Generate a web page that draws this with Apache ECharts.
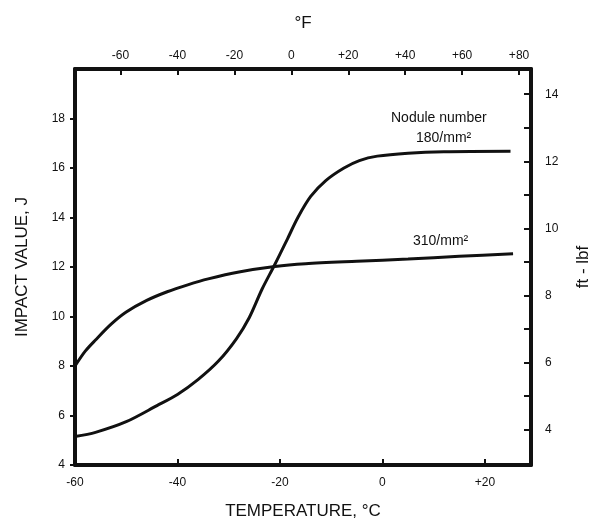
<!DOCTYPE html>
<html>
<head>
<meta charset="utf-8">
<script src="https://cdn.jsdelivr.net/npm/echarts@6/dist/echarts.min.js"></script>
<style>
  html, body { margin: 0; padding: 0; background: #fff; }
  #main { width: 600px; height: 528px; }
</style>
</head>
<body>
<div id="main"></div>
<script>
// temperature (°C) / impact value (J)
var nodule180 = [
  [-60, 5.15], [-56, 5.32], [-50, 5.75], [-44, 6.4], [-40, 6.85], [-36, 7.45],
  [-32, 8.2], [-28.5, 9.1], [-26, 9.95], [-23.5, 11.1], [-21, 12.1], [-18.5, 13.15],
  [-16.5, 14.0], [-14, 14.85], [-11, 15.5], [-7.5, 16.0], [-4.5, 16.3], [-1, 16.48],
  [5, 16.6], [12, 16.66], [25, 16.68]
];
var nodule310 = [
  [-60, 8.0], [-58, 8.6], [-56, 9.05], [-53, 9.68], [-50, 10.18], [-46, 10.65],
  [-42, 11.0], [-38, 11.28], [-34, 11.52], [-28, 11.8], [-21, 12.02], [-15, 12.13],
  [-5, 12.23], [5, 12.32], [15, 12.43], [25.5, 12.54]
];
var celsiusTicks = [-60, -40, -20, 0, 20];
var fahrenheitTicks = [-60, -40, -20, 0, 20, 40, 60, 80];
var jouleTicks = [4, 6, 8, 10, 12, 14, 16, 18];
var ftlbfTicks = [4, 5, 6, 7, 8, 9, 10, 11, 12, 13, 14];
var ftlbfLabels = [4, 6, 8, 10, 12, 14];

var tMin = -60, tMax = 29;
var jMin = 4, jMax = 20;
var J_PER_FTLBF = 1.3558;

function c2f(c) { return c * 9 / 5 + 32; }
function signed(v) { return v > 0 ? '+' + v : '' + v; }

var font = 'Liberation Sans, Arial, sans-serif';
var ink = '#111';
var frame = { show: true, onZero: false, lineStyle: { color: ink, width: 4 } };
var tickLabel = { color: ink, fontSize: 12, fontFamily: font };
var nameStyle = { color: ink, fontSize: 17, fontFamily: font };

var myChart = echarts.init(document.getElementById('main'));
var option = {
  backgroundColor: '#fff',
  animation: false,
  grid: { left: 75, right: 62, top: 69, bottom: 63 },
  xAxis: [
    {
      type: 'value', position: 'bottom', min: tMin, max: tMax,
      name: 'TEMPERATURE, °C', nameLocation: 'middle', nameGap: 38, nameTextStyle: nameStyle,
      axisLine: frame,
      axisTick: { show: true, inside: true, length: 6, customValues: celsiusTicks, lineStyle: { color: ink, width: 2 } },
      axisLabel: Object.assign({ margin: 12, customValues: celsiusTicks, formatter: signed }, tickLabel),
      splitLine: { show: false }
    },
    {
      type: 'value', position: 'top', min: c2f(tMin), max: c2f(tMax),
      name: '°F', nameLocation: 'middle', nameGap: 37, nameTextStyle: nameStyle,
      axisLine: frame,
      axisTick: { show: true, inside: true, length: 6, customValues: fahrenheitTicks, lineStyle: { color: ink, width: 2 } },
      axisLabel: Object.assign({ margin: 7, customValues: fahrenheitTicks, formatter: signed }, tickLabel),
      splitLine: { show: false }
    }
  ],
  yAxis: [
    {
      type: 'value', position: 'left', min: jMin, max: jMax,
      name: 'IMPACT VALUE, J', nameLocation: 'middle', nameRotate: 90, nameGap: 44, nameTextStyle: nameStyle,
      axisLine: frame,
      axisTick: { show: true, inside: false, length: 5, customValues: jouleTicks, lineStyle: { color: ink, width: 2 } },
      axisLabel: Object.assign({ margin: 10, customValues: jouleTicks }, tickLabel),
      splitLine: { show: false }
    },
    {
      type: 'value', position: 'right', min: jMin / J_PER_FTLBF, max: jMax / J_PER_FTLBF,
      name: 'ft - lbf', nameLocation: 'middle', nameRotate: 90, nameGap: 44, nameTextStyle: nameStyle,
      axisLine: frame,
      axisTick: { show: true, inside: true, length: 7, customValues: ftlbfTicks, lineStyle: { color: ink, width: 2 } },
      axisLabel: Object.assign({ margin: 14, customValues: ftlbfLabels }, tickLabel),
      splitLine: { show: false }
    }
  ],
  series: [
    {
      name: '180/mm²', type: 'line', xAxisIndex: 0, yAxisIndex: 0,
      data: nodule180, smooth: 0.3, showSymbol: false,
      lineStyle: { color: ink, width: 3 }
    },
    {
      name: '310/mm²', type: 'line', xAxisIndex: 0, yAxisIndex: 0,
      data: nodule310, smooth: 0.3, showSymbol: false,
      lineStyle: { color: ink, width: 3 }
    }
  ],
  graphic: [
    { type: 'text', left: 391, top: 111, style: { text: 'Nodule number', fill: ink, font: '14px ' + font } },
    { type: 'text', left: 416, top: 131, style: { text: '180/mm²', fill: ink, font: '14px ' + font } },
    { type: 'text', left: 413, top: 234, style: { text: '310/mm²', fill: ink, font: '14px ' + font } }
  ]
};
myChart.setOption(option);
</script>
</body>
</html>
